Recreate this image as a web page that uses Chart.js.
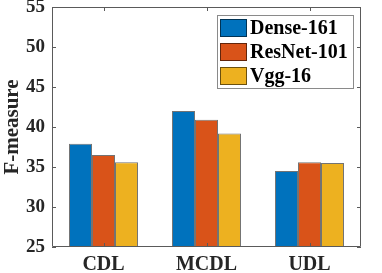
<!DOCTYPE html>
<html>
<head>
<meta charset="utf-8">
<script src="https://cdn.jsdelivr.net/npm/chart.js@4.4.1/dist/chart.umd.min.js"></script>
<style>
  html, body { margin: 0; padding: 0; background: #ffffff; }
  #wrap { width: 382px; height: 273px; }
</style>
</head>
<body>
<div id="wrap"><canvas id="chart" width="382" height="273"></canvas></div>
<script>
// --- dados do gráfico ---
const categories = ['CDL', 'MCDL', 'UDL'];
const seriesNames = ['Dense-161', 'ResNet-101', 'Vgg-16'];
const dense161 = [37.9, 42.0, 34.5];
const resnet101 = [36.5, 40.9, 35.6];
const vgg16 = [35.6, 39.2, 35.5];
const yTicks = [25, 30, 35, 40, 45, 50, 55];
const seriesColors = ['#0072BD', '#D95319', '#EDB120'];

const axisColor = '#5a5a5a';
const fontFamily = '"Liberation Serif", "Times New Roman", serif';

// caixa do eixo + marcas internas + legenda estilo MATLAB
const matlabBox = {
    id: 'matlabBox',
    afterDraw(chart) {
        const ctx = chart.ctx;
        const a = chart.chartArea;
        const x = chart.scales.x;
        const y = chart.scales.y;
        ctx.save();
        ctx.strokeStyle = axisColor;
        ctx.lineWidth = 1;
        ctx.beginPath();
        ctx.rect(a.left + 0.5, a.top + 0.5, a.right - a.left - 1, a.bottom - a.top - 1);
        ctx.stroke();
        const len = 4;
        ctx.beginPath();
        yTicks.forEach(v => {
            const py = Math.round(y.getPixelForValue(v)) + 0.5;
            ctx.moveTo(a.left, py); ctx.lineTo(a.left + len, py);
            ctx.moveTo(a.right, py); ctx.lineTo(a.right - len, py);
        });
        categories.forEach((c, i) => {
            const px = Math.round(x.getPixelForValue(i)) + 0.5;
            ctx.moveTo(px, a.bottom); ctx.lineTo(px, a.bottom - len);
            ctx.moveTo(px, a.top); ctx.lineTo(px, a.top + len);
        });
        ctx.stroke();

        // legenda
        const lx = 217, ly = 15, lw = 136, lh = 73;
        ctx.fillStyle = '#ffffff';
        ctx.fillRect(lx, ly, lw, lh);
        ctx.strokeStyle = '#8a8a8a';
        ctx.strokeRect(lx + 0.5, ly + 0.5, lw, lh);
        ctx.font = 'bold 20px ' + fontFamily;
        ctx.textBaseline = 'middle';
        chart.data.datasets.forEach((ds, i) => {
            const rowY = ly + 4 + i * 24;
            ctx.fillStyle = ds.backgroundColor;
            ctx.fillRect(lx + 3, rowY, 27, 18);
            ctx.strokeStyle = 'rgba(0,0,0,0.55)';
            ctx.strokeRect(lx + 3.5, rowY + 0.5, 26, 17);
            ctx.fillStyle = '#000000';
            ctx.fillText(ds.label, lx + 33, rowY + 10);
        });
        ctx.restore();
    }
};

const datasets = [dense161, resnet101, vgg16].map((vals, i) => ({
    label: seriesNames[i],
    data: vals,
    backgroundColor: seriesColors[i],
    borderColor: 'rgba(0,0,0,0.55)',
    borderWidth: 1,
    borderSkipped: false,
    barPercentage: 1.0,
    categoryPercentage: 0.67
}));

new Chart(document.getElementById('chart'), {
    type: 'bar',
    data: { labels: categories, datasets: datasets },
    options: {
        responsive: false,
        animation: false,
        layout: { padding: { top: 7, right: 21, left: 0, bottom: 0 } },
        plugins: {
            legend: { display: false },
            tooltip: { enabled: false }
        },
        scales: {
            x: {
                grid: { display: false, drawTicks: false },
                border: { display: false },
                ticks: {
                    color: '#262626',
                    padding: 6,
                    font: { family: fontFamily, size: 20, weight: 'bold' }
                },
                afterFit: (scale) => {
                    scale.height = 26;
                    scale.paddingLeft = 0;
                    scale.paddingRight = 0;
                }
            },
            y: {
                min: 25,
                max: 55,
                afterBuildTicks: (scale) => { scale.ticks = yTicks.map(v => ({ value: v })); },
                grid: { display: false, drawTicks: false },
                border: { display: false },
                ticks: {
                    color: '#262626',
                    padding: 7,
                    font: { family: fontFamily, size: 19, weight: 'bold' }
                },
                title: {
                    display: true,
                    text: 'F-measure',
                    color: '#262626',
                    padding: { top: 0, bottom: 0 },
                    font: { family: fontFamily, size: 21, weight: 'bold' }
                },
                afterFit: (scale) => {
                    scale.width = 52;
                    scale.paddingTop = 0;
                    scale.paddingBottom = 0;
                }
            }
        }
    },
    plugins: [matlabBox]
});
</script>
</body>
</html>
